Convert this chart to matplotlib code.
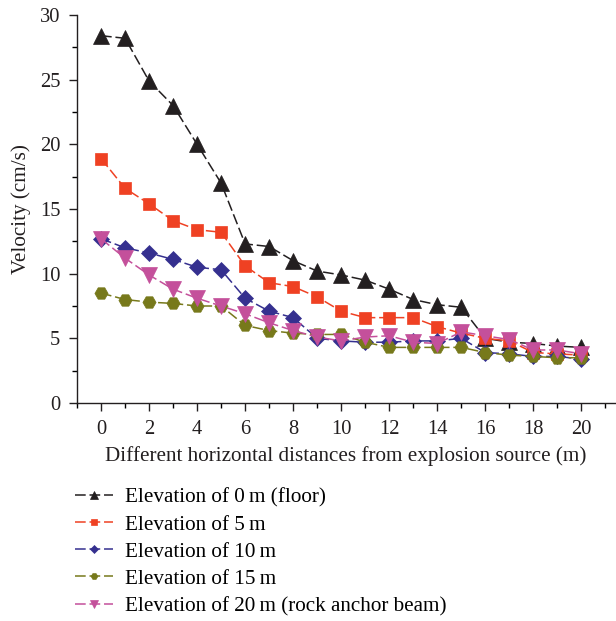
import matplotlib
matplotlib.use("Agg")
import matplotlib.pyplot as plt
from matplotlib.ticker import MultipleLocator

plt.rcParams['font.family'] = ['Liberation Serif', 'DejaVu Serif']

x = list(range(21))
v0 = [28.4, 28.2, 24.9, 23.0, 20.0, 17.0, 12.3, 12.1, 11.0, 10.2, 9.9, 9.5, 8.8, 8.0, 7.6, 7.4, 5.0, 4.7, 4.6, 4.4, 4.3]
v5 = [18.9, 16.6, 15.4, 14.1, 13.4, 13.2, 10.6, 9.3, 9.0, 8.2, 7.1, 6.6, 6.6, 6.6, 5.9, 5.4, 5.0, 4.8, 3.9, 3.8, 3.7]
v10 = [12.7, 12.0, 11.6, 11.1, 10.5, 10.3, 8.1, 7.1, 6.6, 5.0, 4.8, 4.7, 4.7, 4.8, 4.8, 5.0, 3.9, 3.8, 3.6, 3.6, 3.4]
v15 = [8.5, 8.0, 7.8, 7.7, 7.5, 7.5, 6.0, 5.6, 5.4, 5.3, 5.3, 4.7, 4.3, 4.3, 4.3, 4.3, 3.9, 3.7, 3.6, 3.5, 3.5]
v20 = [12.7, 11.2, 9.9, 8.8, 8.1, 7.5, 6.9, 6.2, 5.6, 5.1, 4.8, 5.1, 5.2, 4.7, 4.6, 5.5, 5.2, 4.9, 4.1, 4.1, 3.8]

labels = ["Elevation of 0\u2009m (floor)", "Elevation of 5\u2009m", "Elevation of 10\u2009m",
          "Elevation of 15\u2009m", "Elevation of 20\u2009m (rock anchor beam)"]
colors = ["#231f20", "#ef4123", "#35308f", "#77791b", "#c4509b"]
markers = ["^", "s", "D", "H", "v"]
msizes = [11, 9, 8.5, 9.5, 11]
series = [v0, v5, v10, v15, v20]

fig = plt.figure(figsize=(6.16, 6.21), dpi=100)
ax = fig.add_axes([77/616, 1 - 403/621, (615-77)/616, (403-15)/621])

for s, c, m, ms, lab in zip(series, colors, markers, msizes, labels):
    ax.plot(x, s, color=c, marker=m, markersize=ms, linestyle=(0, (7, 2.5)), linewidth=1.1,
            markeredgecolor=c, markeredgewidth=0.5, label=lab)

ax.set_xlim(-1, 21.4)
ax.set_ylim(0, 30)
ax.xaxis.set_major_locator(MultipleLocator(2))
ax.xaxis.set_minor_locator(MultipleLocator(1))
ax.yaxis.set_major_locator(MultipleLocator(5))
ax.yaxis.set_minor_locator(MultipleLocator(2.5))
ax.spines['top'].set_visible(False)
ax.spines['right'].set_visible(False)
for sp in ['left', 'bottom']:
    ax.spines[sp].set_linewidth(1.0)
    ax.spines[sp].set_color('#231f20')
ax.tick_params(axis='both', which='major', direction='out', length=6, width=1.0, labelsize=14.8,
               colors='#231f20', pad=6)
ax.tick_params(axis='both', which='minor', direction='out', length=3.6, width=1.0)
ax.set_xlabel("Different horizontal distances from explosion source (m)", fontsize=15.2, color='#231f20', labelpad=5)
ax.set_ylabel("Velocity (cm/s)", fontsize=15.2, color='#231f20', labelpad=6)

handles, labs = ax.get_legend_handles_labels()
fig.legend(handles, labs, loc='upper left', bbox_to_anchor=(64/616, 1 - 477/621),
           frameon=False, fontsize=15.2, markerscale=0.5, handlelength=1.8, labelspacing=0.35,
           handletextpad=0.57, borderpad=0)

fig.savefig("out.png", dpi=100)
